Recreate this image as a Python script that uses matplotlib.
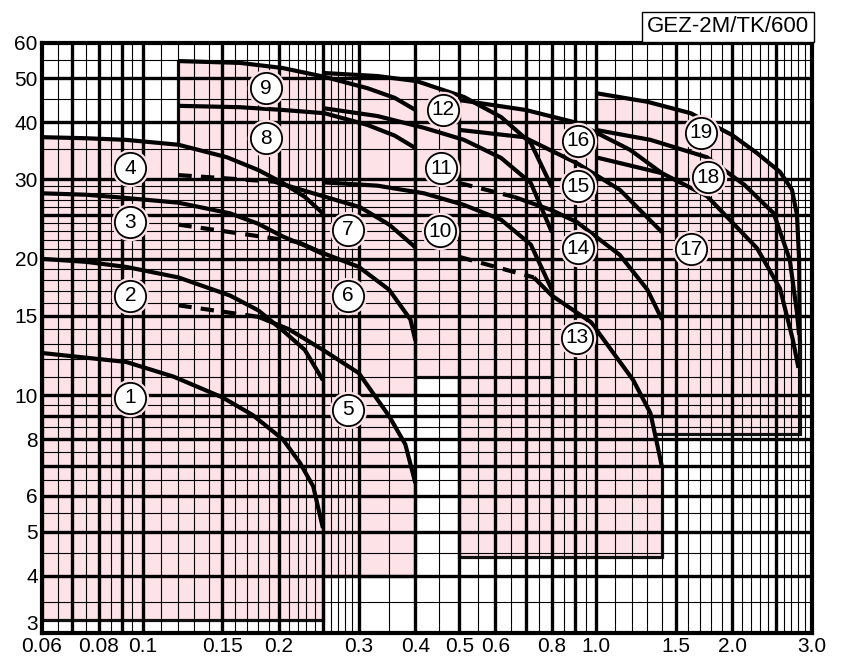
import numpy as np
import matplotlib.pyplot as plt
from matplotlib.transforms import ScaledTranslation

plt.rcParams['font.family'] = ['Liberation Sans', 'DejaVu Sans']

# grid
x_thick = [0.07, 0.08, 0.09, 0.1, 0.15, 0.2, 0.25, 0.3, 0.4, 0.5, 0.6, 0.7, 0.8, 0.9,
           1.0, 1.5, 2.0, 2.5]
x_thin = [0.065, 0.075, 0.085, 0.095, 0.11, 0.12, 0.13, 0.14, 0.16, 0.17, 0.18, 0.19,
          0.21, 0.22, 0.23, 0.24, 0.26, 0.27, 0.28, 0.29, 0.35, 0.45, 0.55, 0.65, 0.75,
          0.85, 0.95, 1.1, 1.2, 1.3, 1.4, 1.6, 1.7, 1.8, 1.9, 2.1, 2.2, 2.3, 2.4,
          2.6, 2.7, 2.8, 2.9]
y_thick = [4, 5, 6, 7, 8, 9, 10, 15, 20, 25, 30, 40, 50]
y_thin = [3.5, 4.5, 5.5, 6.5, 7.5, 8.5, 9.5, 11, 12, 13, 14, 16, 17, 18, 19, 21, 22,
          23, 24, 26, 27, 28, 29, 35, 45, 55]

x_ticks = [0.06, 0.08, 0.1, 0.15, 0.2, 0.3, 0.4, 0.5, 0.6, 0.8, 1.0, 1.5, 2.0, 3.0]
x_ticklabels = ['0.06', '0.08', '0.1', '0.15', '0.2', '0.3', '0.4', '0.5', '0.6',
                '0.8', '1.0', '1.5', '2.0', '3.0']
y_ticks = [3, 4, 5, 6, 8, 10, 15, 20, 30, 40, 50, 60]
y_ticklabels = ['3', '4', '5', '6', '8', '10', '15', '20', '30', '40', '50', '60']

# curves (solid parts)
c1_x = [0.06, 0.092, 0.117, 0.15, 0.175, 0.204, 0.2225, 0.238, 0.25]
c1_y = [12.4, 11.85, 11.0, 9.9, 9.05, 8.0, 7.1, 6.3, 5.1]
c2_x = [0.06, 0.075, 0.092, 0.12, 0.156, 0.18, 0.204, 0.228, 0.25]
c2_y = [20.0, 19.7, 19.2, 18.2, 16.6, 15.4, 13.9, 12.6, 10.8]
c3_x = [0.06, 0.075, 0.09, 0.12, 0.156, 0.18, 0.204, 0.228, 0.25]
c3_y = [27.9, 27.7, 27.3, 26.6, 25.2, 23.9, 22.4, 21.4, 20.5]
c4_x = [0.06, 0.075, 0.092, 0.12, 0.1536, 0.18, 0.204, 0.228, 0.25]
c4_y = [37.1, 36.9, 36.6, 35.7, 33.5, 31.4, 29.4, 27.4, 25.2]
c5_x = [0.18, 0.21, 0.25, 0.30, 0.35, 0.38, 0.4]
c5_y = [14.9, 14.0, 12.6, 11.2, 9.0, 7.8, 6.4]
c6_x = [0.22, 0.25, 0.30, 0.35, 0.39, 0.4]
c6_y = [21.8, 20.6, 19.2, 17.1, 14.7, 13.2]
c7_x = [0.195, 0.25, 0.302, 0.35, 0.4]
c7_y = [29.6, 27.5, 26.0, 23.8, 21.2]
c8_x = [0.12, 0.164, 0.204, 0.252, 0.313, 0.36, 0.4]
c8_y = [43.5, 43.2, 42.6, 41.9, 39.5, 37.4, 35.1]
c9_x = [0.12, 0.164, 0.204, 0.252, 0.313, 0.36, 0.4]
c9_y = [54.6, 54.1, 52.7, 50.4, 47.6, 45.3, 42.6]
c10_x = [0.25, 0.33, 0.418, 0.512, 0.618, 0.719, 0.8]
c10_y = [29.5, 29.0, 27.9, 26.3, 24.4, 21.5, 17.1]
c11_x = [0.25, 0.33, 0.418, 0.512, 0.618, 0.719, 0.8]
c11_y = [43.0, 41.3, 38.9, 36.6, 33.4, 29.4, 22.9]
c12_x = [0.25, 0.33, 0.403, 0.512, 0.618, 0.719, 0.8]
c12_y = [51.4, 50.6, 49.3, 45.5, 41.1, 36.0, 28.8]
c13_x = [0.73, 0.8, 0.976, 1.21, 1.32, 1.37, 1.4]
c13_y = [18.2, 16.6, 14.5, 10.8, 9.14, 7.7, 6.95]
c14_x = [0.66, 0.8, 0.909, 1.13, 1.3, 1.4]
c14_y = [27.4, 25.6, 24.1, 20.4, 17.1, 14.7]
c15_x = [0.5, 0.694, 0.909, 1.13, 1.4]
c15_y = [38.5, 37.1, 32.5, 28.4, 22.9]
c16_x = [0.5, 0.7, 0.909, 1.19, 1.4]
c16_y = [44.8, 42.6, 39.9, 34.8, 30.9]
c17_x = [1.0, 1.4, 1.76, 2.27, 2.55, 2.72, 2.8]
c17_y = [33.5, 30.9, 27.5, 21.1, 17.2, 13.3, 11.5]
c18_x = [1.0, 1.32, 1.76, 2.13, 2.47, 2.68, 2.78, 2.81]
c18_y = [38.5, 36.6, 33.5, 29.1, 25.2, 19.9, 15.2, 13.6]
c19_x = [1.0, 1.30, 1.62, 2.0, 2.27, 2.55, 2.71, 2.78, 2.81, 2.82]
c19_y = [46.4, 44.4, 41.9, 37.5, 34.2, 31.1, 28.4, 25.0, 19.9, 13.2]

# dashed extensions
d5_x, d5_y = [0.12, 0.18], [15.8, 14.9]
d6_x, d6_y = [0.12, 0.22], [23.8, 21.8]
d7_x, d7_y = [0.12, 0.195], [30.6, 29.6]
d13_x, d13_y = [0.5, 0.73], [20.2, 18.2]
d14_x, d14_y = [0.5, 0.66], [29.4, 27.4]

curves_x = [c1_x, c2_x, c3_x, c4_x, c5_x, c6_x, c7_x, c8_x, c9_x, c10_x, c11_x, c12_x,
            c13_x, c14_x, c15_x, c16_x, c17_x, c18_x, c19_x]
curves_y = [c1_y, c2_y, c3_y, c4_y, c5_y, c6_y, c7_y, c8_y, c9_y, c10_y, c11_y, c12_y,
            c13_y, c14_y, c15_y, c16_y, c17_y, c18_y, c19_y]

# shaded ranges, drawn back to front
region_x0 = [1.0, 0.5, 0.5, 0.25, 0.12, 0.12, 0.06]
region_x1 = [2.82, 1.4, 1.4, 0.8, 0.4, 0.4, 0.25]
region_ybot = [8.2, 9.0, 4.4, 11.0, 10.0, 4.0, 3.2]
region_top_x = [c19_x, c16_x, d13_x + c13_x[1:], c12_x, c9_x, d5_x + c5_x[1:], c4_x]
region_top_y = [c19_y, c16_y, d13_y + c13_y[1:], c12_y, c9_y, d5_y + c5_y[1:], c4_y]

# circled numbers
label_x = [0.094, 0.094, 0.094, 0.094, 0.284, 0.284, 0.284, 0.187, 0.187, 0.453, 0.455,
           0.46, 0.909, 0.912, 0.912, 0.912, 1.62, 1.77, 1.71]
label_y = [9.87, 16.6, 24.1, 31.7, 9.29, 16.6, 23.2, 36.9, 47.6, 23.0, 31.7, 42.6, 13.4,
           21.1, 28.9, 36.4, 21.0, 30.3, 37.9]

pink = '#fde2e8'

fig = plt.figure(figsize=(8.48, 6.65), dpi=100)
ax = fig.add_axes([42 / 848, 32.5 / 665, 770 / 848, 590 / 665])
ax.set_xscale('log')
ax.set_yscale('log')
ax.set_xlim(0.06, 3.0)
ax.set_ylim(3, 60)

z = 1
for x0, x1, yb, tx, ty in zip(region_x0, region_x1, region_ybot, region_top_x, region_top_y):
    px = [x0] + list(tx) + [x1]
    py = [yb] + list(ty) + [yb]
    ax.fill(px, py, color=pink, lw=0, zorder=z)
    ax.plot([x0, x0, x1, x1], [ty[0], yb, yb, ty[-1]], color='#111111', lw=2.3,
            zorder=z + 0.5, solid_joinstyle='miter')
    z += 1

gz = z + 1
for v in x_thin:
    ax.axvline(v, color='black', lw=0.8, zorder=gz)
for v in x_thick:
    ax.axvline(v, color='black', lw=2.4, zorder=gz)
for v in y_thin:
    ax.axhline(v, color='black', lw=0.8, zorder=gz)
for v in y_thick:
    ax.axhline(v, color='black', lw=2.4, zorder=gz)

for cx, cy in zip(curves_x, curves_y):
    ax.plot(cx, cy, color='black', lw=3.0, zorder=gz + 1, solid_capstyle='butt',
            solid_joinstyle='round')
for dx, dy in [(d5_x, d5_y), (d6_x, d6_y), (d7_x, d7_y), (d13_x, d13_y), (d14_x, d14_y)]:
    ax.plot(dx, dy, color='black', lw=3.0, ls=(0, (3.2, 2.2)), zorder=gz + 1)

for i, (lx, ly) in enumerate(zip(label_x, label_y)):
    ax.plot(lx, ly, 'o', ms=27, mfc=pink, mec='none', zorder=gz + 2)
    ax.plot(lx, ly, 'o', ms=22.5, mfc='white', mec='black', mew=1.3, zorder=gz + 3)
    ax.text(lx, ly, str(i + 1), ha='center', va='center', fontsize=15,
            zorder=gz + 4)

for s in ax.spines.values():
    s.set_linewidth(3)
    s.set_zorder(gz + 5)

ax.minorticks_off()
ax.set_xticks(x_ticks)
ax.set_xticklabels(x_ticklabels, fontsize=15)
ax.set_yticks(y_ticks)
ax.set_yticklabels(y_ticklabels, fontsize=15)
ax.tick_params(length=0, pad=3)
for lab in ax.get_yticklabels():
    if lab.get_text() == '3':
        lab.set_transform(lab.get_transform() + ScaledTranslation(0, 0.1, fig.dpi_scale_trans))

fig.text(728 / 848, 1 - 27 / 665, 'GEZ-2M/TK/600', ha='center', va='center', fontsize=16,
         bbox=dict(boxstyle='square,pad=0.2', fc='white', ec='black', lw=1.0))

fig.savefig('out.png', dpi=100)
